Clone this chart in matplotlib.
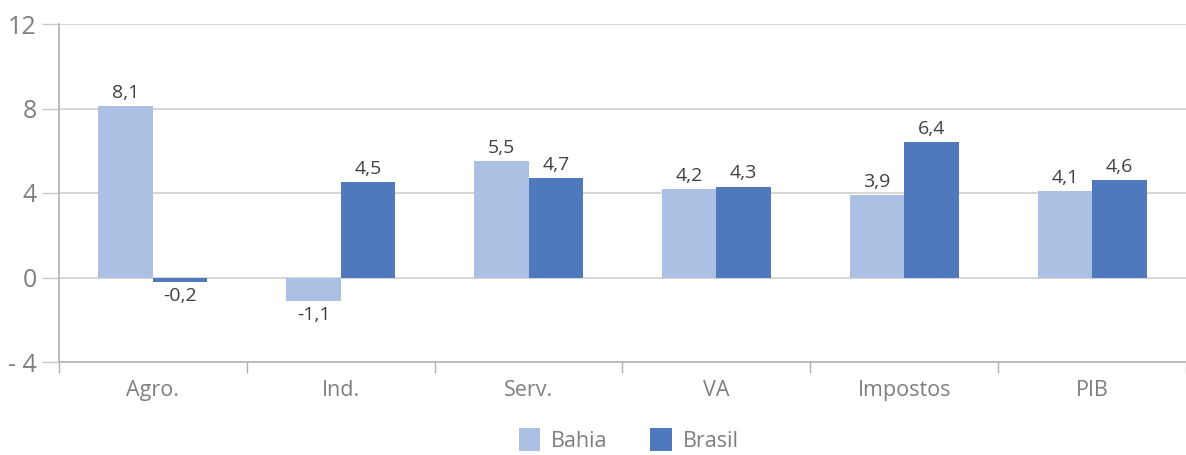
import matplotlib
matplotlib.use("Agg")
import matplotlib.pyplot as plt
import numpy as np

categorias = ["Agro.", "Ind.", "Serv.", "VA", "Impostos", "PIB"]
bahia = [8.1, -1.1, 5.5, 4.2, 3.9, 4.1]
brasil = [-0.2, 4.5, 4.7, 4.3, 6.4, 4.6]
yticks = [-4, 0, 4, 8, 12]
ytick_labels = ["- 4", "0", "4", "8", "12"]

plt.rcParams['font.family'] = ['Open Sans', 'DejaVu Sans']

cor_bahia = "#abc0e2"
cor_brasil = "#4f78bd"
cinza_txt = "#7f7f7f"
cinza_lbl = "#404040"

fig = plt.figure(figsize=(11.86, 4.55), dpi=100)
ax = fig.add_axes([59 / 1186, 1 - 362 / 455, 1127 / 1186, 338 / 455])

x = np.arange(len(categorias))
w = 0.29
b1 = ax.bar(x - w / 2, bahia, w, color=cor_bahia, label="Bahia", zorder=3)
b2 = ax.bar(x + w / 2, brasil, w, color=cor_brasil, label="Brasil", zorder=3)

def fmt(v):
    return f"{v:.1f}".replace(".", ",")

for barras, vals in ((b1, bahia), (b2, brasil)):
    for r, v in zip(barras, vals):
        cx = r.get_x() + r.get_width() / 2
        if v >= 0:
            ax.annotate(fmt(v), (cx, v), xytext=(0, 3), textcoords="offset points",
                        ha="center", va="bottom", fontsize=14, color=cinza_lbl)
        else:
            ax.annotate(fmt(v), (cx, v), xytext=(0, -4), textcoords="offset points",
                        ha="center", va="top", fontsize=14, color=cinza_lbl)

ax.set_xlim(-0.5, len(categorias) - 0.5)
ax.set_ylim(-4, 12)
ax.set_yticks(yticks)
ax.set_yticklabels(ytick_labels)
for yv in yticks[1:]:
    ax.axhline(yv, color="#d0d0d0", lw=1.2, zorder=1)

ax.set_xticks(x)
ax.set_xticklabels(categorias)
ax.set_xticks(np.arange(len(categorias) + 1) - 0.5, minor=True)
ax.tick_params(axis="x", which="major", length=0, pad=13, labelsize=15.5, labelcolor=cinza_txt)
ax.tick_params(axis="x", which="minor", length=8, color="#b0b0b0", width=1)
ax.tick_params(axis="y", length=12, color="#c8c8c8", width=1, pad=4, labelsize=18, labelcolor=cinza_txt)

for s in ("top", "right"):
    ax.spines[s].set_visible(False)
ax.spines["left"].set_color("#b0b0b0")
ax.spines["bottom"].set_color("#b0b0b0")
ax.spines["left"].set_linewidth(1.2)
ax.spines["bottom"].set_linewidth(1.2)

fig.legend(loc="lower center", bbox_to_anchor=(0.53, -0.035), ncol=2, frameon=False,
           fontsize=15.5, labelcolor=cinza_txt, handlelength=1.0, handleheight=1.3,
           columnspacing=2.0, handletextpad=0.5)

fig.savefig("out.png", dpi=100)
